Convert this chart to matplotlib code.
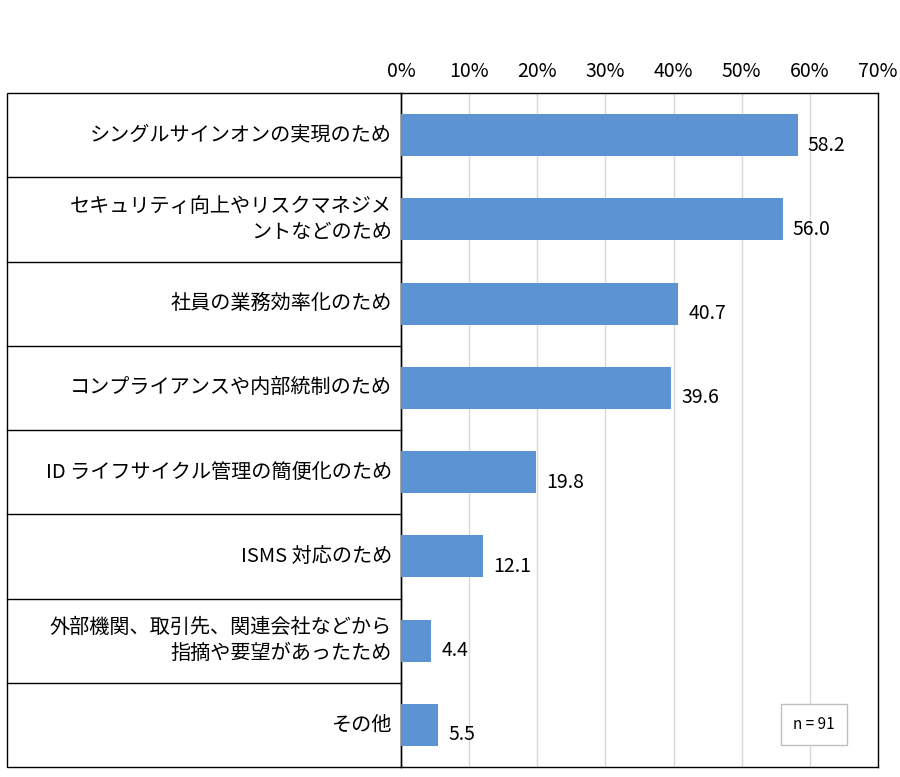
import matplotlib
matplotlib.use("Agg")
import matplotlib.pyplot as plt
from matplotlib.lines import Line2D
from matplotlib.patches import Rectangle

plt.rcParams['font.family'] = ['Noto Sans CJK JP', 'DejaVu Sans']

categories = ["シングルサインオンの実現のため",
              "セキュリティ向上やリスクマネジメ\nントなどのため",
              "社員の業務効率化のため",
              "コンプライアンスや内部統制のため",
              "ID ライフサイクル管理の簡便化のため",
              "ISMS 対応のため",
              "外部機関、取引先、関連会社などから\n指摘や要望があったため",
              "その他"]
values = [58.2, 56.0, 40.7, 39.6, 19.8, 12.1, 4.4, 5.5]
ticks = [0, 10, 20, 30, 40, 50, 60, 70]
tick_labels = [f"{t}%" for t in ticks]

fig = plt.figure(figsize=(9, 7.77), dpi=100)
ax = fig.add_axes([401/900, 1-767/777, 477/900, (767-93)/777])
n = len(values)
ys = list(range(n))
ax.barh(ys, values, height=0.5, color='#5B93D3', zorder=3)
ax.set_ylim(n-0.5, -0.5)
ax.set_xlim(0, 70)
ax.set_xticks(ticks)
ax.set_xticklabels(tick_labels, fontsize=14)
ax.xaxis.tick_top()
ax.tick_params(axis='x', length=0, pad=8)
ax.set_yticks([])
ax.grid(axis='x', color='#d9d9d9', linewidth=1, zorder=0)
for s in ax.spines.values():
    s.set_color('black'); s.set_linewidth(1)

for y, v in zip(ys, values):
    ax.text(v + 1.5, y + 0.12, f"{v:.1f}", va='center', ha='left', fontsize=14)

# label table
xl = (7-401)/477
tr = ax.transAxes
ax.add_patch(Rectangle((xl, 0), -xl, 1, transform=tr, fill=False,
                       edgecolor='black', linewidth=1, clip_on=False))
for i in range(1, n):
    yy = 1 - i/n
    ax.add_line(Line2D([xl, 0], [yy, yy], transform=tr, color='black',
                       linewidth=1, clip_on=False))
for y, c in zip(ys, categories):
    ax.text(-0.019, 1 - (y+0.5)/n, c, transform=tr, ha='right', va='center',
            fontsize=14.5, linespacing=1.3)

ax.text(0.865, 0.063, "n = 91", transform=tr, ha='center', va='center', fontsize=11,
        bbox=dict(boxstyle='square,pad=0.8', fc='white', ec='#bfbfbf', lw=1), zorder=5)

fig.savefig("out.png", dpi=100)
